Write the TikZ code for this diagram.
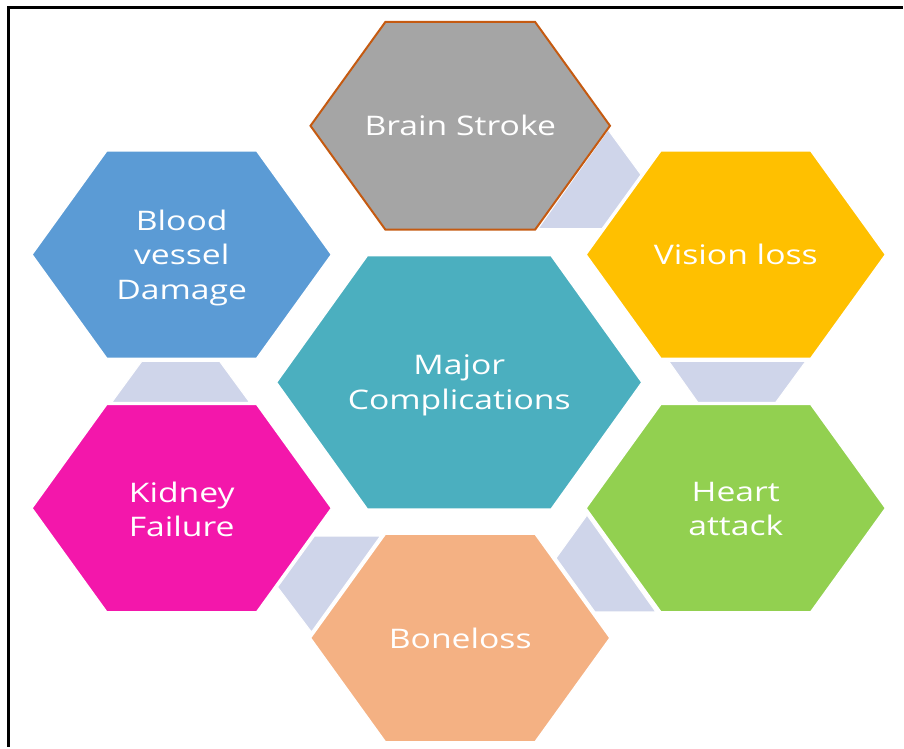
\documentclass[tikz,border=0pt]{standalone}
\usepackage{xcolor}
\usepackage{tikz}
\usepackage{fontspec}
\setmainfont[FakeStretch=1.25]{Open Sans}
\usetikzlibrary{math}

\definecolor{hexgray}{HTML}{A5A5A5}
\definecolor{hexrim}{HTML}{C55A11}
\definecolor{hexblue}{HTML}{5B9BD5}
\definecolor{hexyellow}{HTML}{FFC000}
\definecolor{hexgreen}{HTML}{92D050}
\definecolor{hexpeach}{HTML}{F4B183}
\definecolor{hexpink}{HTML}{F317AB}
\definecolor{hexteal}{HTML}{4BAFBF}
\definecolor{hexlink}{HTML}{CFD5EA}

\begin{document}
\begin{tikzpicture}[x=1pt,y=-1pt,
	linkfill/.style={fill=hexlink,draw=white,line width=1pt},
	hexfill/.style={draw=white,line width=1.5pt},
	lbl/.style={text=white,align=center,font=\fontsize{27}{34.5}\selectfont}]
\tikzmath{
	\a = 150;\b = 104;\k = 75;
	\ma = 183;\mb = 127;\mk = 91;
	\bsx = 461;\bsy = 126;
	\bvx = 182;\bvy = 255;
	\vlx = 737;\vly = 255;
	\kfx = 182;\kfy = 509;
	\hax = 737;\hay = 509;
	\blx = 461;\bly = 639;
	\mcx = 460;\mcy = 383;
	{\useasboundingbox (0,0) rectangle (904,748);};
	{\draw[line width=3pt] (9,748) -- (9,7.5) -- (904,7.5);};
	%
	{\draw[linkfill] plot[] coordinates {(609,130) (642,175) (603,229) (539,229)} -- cycle;};
	{\draw[linkfill] plot[] coordinates {(670,362) (807,362) (777,403) (699,403)} -- cycle;};
	{\draw[linkfill] plot[] coordinates {(588,516) (657,613) (596,613) (557,559)} -- cycle;};
	{\draw[linkfill] plot[] coordinates {(315,537) (381,537) (312,633) (278,588)} -- cycle;};
	{\draw[linkfill] plot[] coordinates {(142,362) (220,362) (250,403) (112,403)} -- cycle;};
	%
	{\filldraw[fill=hexgray,draw=hexrim,line width=2pt] plot[] coordinates {(\bsx-\a,\bsy) (\bsx-\a+\k,\bsy-\b) (\bsx+\a-\k,\bsy-\b) (\bsx+\a,\bsy) (\bsx+\a-\k,\bsy+\b) (\bsx-\a+\k,\bsy+\b)} -- cycle;};
	{\filldraw[hexfill,fill=hexblue] plot[] coordinates {(\bvx-\a,\bvy) (\bvx-\a+\k,\bvy-\b) (\bvx+\a-\k,\bvy-\b) (\bvx+\a,\bvy) (\bvx+\a-\k,\bvy+\b) (\bvx-\a+\k,\bvy+\b)} -- cycle;};
	{\filldraw[hexfill,fill=hexyellow] plot[] coordinates {(\vlx-\a,\vly) (\vlx-\a+\k,\vly-\b) (\vlx+\a-\k,\vly-\b) (\vlx+\a,\vly) (\vlx+\a-\k,\vly+\b) (\vlx-\a+\k,\vly+\b)} -- cycle;};
	{\filldraw[hexfill,fill=hexpink] plot[] coordinates {(\kfx-\a,\kfy) (\kfx-\a+\k,\kfy-\b) (\kfx+\a-\k,\kfy-\b) (\kfx+\a,\kfy) (\kfx+\a-\k,\kfy+\b) (\kfx-\a+\k,\kfy+\b)} -- cycle;};
	{\filldraw[hexfill,fill=hexgreen] plot[] coordinates {(\hax-\a,\hay) (\hax-\a+\k,\hay-\b) (\hax+\a-\k,\hay-\b) (\hax+\a,\hay) (\hax+\a-\k,\hay+\b) (\hax-\a+\k,\hay+\b)} -- cycle;};
	{\filldraw[hexfill,fill=hexpeach] plot[] coordinates {(\blx-\a,\bly) (\blx-\a+\k,\bly-\b) (\blx+\a-\k,\bly-\b) (\blx+\a,\bly) (\blx+\a-\k,\bly+\b) (\blx-\a+\k,\bly+\b)} -- cycle;};
	{\filldraw[hexfill,fill=hexteal] plot[] coordinates {(\mcx-\ma,\mcy) (\mcx-\ma+\mk,\mcy-\mb) (\mcx+\ma-\mk,\mcy-\mb) (\mcx+\ma,\mcy) (\mcx+\ma-\mk,\mcy+\mb) (\mcx-\ma+\mk,\mcy+\mb)} -- cycle;};
	%
	{\node[lbl] (bs) at (\bsx,\bsy) {Brain Stroke};};
	{\node[lbl] (bv) at (\bvx,\bvy+3) {Blood\\vessel\\Damage};};
	{\node[lbl] (vl) at (\vlx,\vly) {Vision loss};};
	{\node[lbl] (kf) at (\kfx,\kfy+1) {Kidney\\Failure};};
	{\node[lbl] (ha) at (\hax,\hay+1) {Heart\\attack};};
	{\node[lbl] (bl) at (\blx,\bly) {Boneloss};};
	{\node[lbl] (mc) at (\mcx,\mcy+3) {Major\\Complications};};
};
\end{tikzpicture}
\end{document}
